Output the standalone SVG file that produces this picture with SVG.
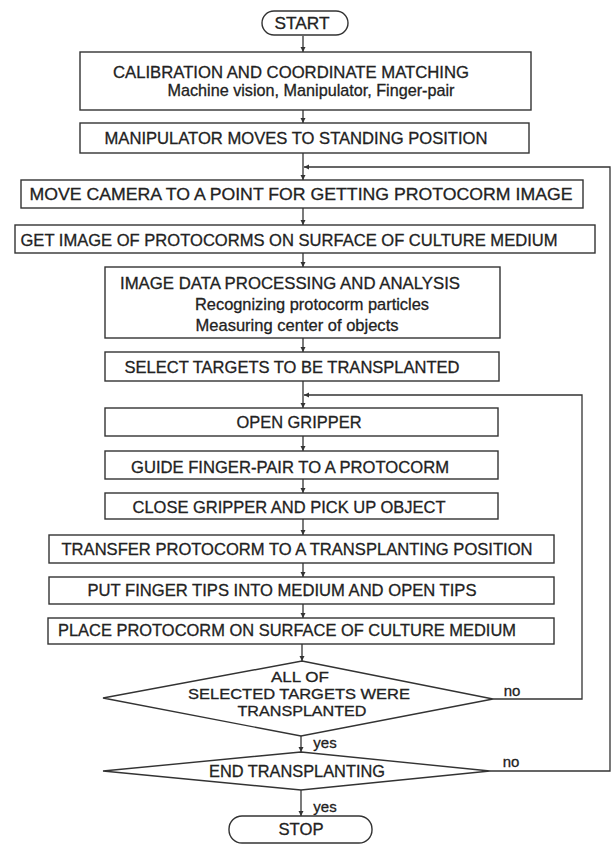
<svg xmlns="http://www.w3.org/2000/svg" width="613" height="845" viewBox="0 0 613 845">
<style>
.b{fill:#fff;stroke:#333;stroke-width:1.4}
.c{fill:none;stroke:#333;stroke-width:1.3}
text{font-family:"Liberation Sans",Arial,sans-serif;font-size:17px;fill:#222;stroke:#222;stroke-width:0.3;text-anchor:middle}
.s{font-size:15px}
.d{font-size:15px}
</style>
<defs>
<marker id="a" markerWidth="6" markerHeight="6" refX="5" refY="3" orient="auto" markerUnits="userSpaceOnUse">
<path d="M0,0.5 L5,3 L0,5.5 Z" fill="#333"/>
</marker>
</defs>
<rect width="613" height="845" fill="#fff"/>
<g id="connectors">
<line class="c" x1="303" y1="36" x2="303" y2="52" marker-end="url(#a)"/>
<line class="c" x1="303" y1="110" x2="303" y2="123" marker-end="url(#a)"/>
<line class="c" x1="303" y1="153" x2="303" y2="180" marker-end="url(#a)"/>
<line class="c" x1="303" y1="208" x2="303" y2="225" marker-end="url(#a)"/>
<line class="c" x1="303" y1="253" x2="303" y2="267" marker-end="url(#a)"/>
<line class="c" x1="303" y1="338" x2="303" y2="352" marker-end="url(#a)"/>
<line class="c" x1="303" y1="381" x2="303" y2="408" marker-end="url(#a)"/>
<line class="c" x1="303" y1="436" x2="303" y2="451" marker-end="url(#a)"/>
<line class="c" x1="303" y1="479" x2="303" y2="493" marker-end="url(#a)"/>
<line class="c" x1="303" y1="519" x2="303" y2="535" marker-end="url(#a)"/>
<line class="c" x1="303" y1="563" x2="303" y2="577" marker-end="url(#a)"/>
<line class="c" x1="303" y1="604" x2="303" y2="618" marker-end="url(#a)"/>
<line class="c" x1="302" y1="644" x2="302" y2="661" marker-end="url(#a)"/>
<line class="c" x1="301" y1="736" x2="301" y2="752" marker-end="url(#a)"/>
<line class="c" x1="301" y1="790" x2="301" y2="816" marker-end="url(#a)"/>
<polyline class="c" points="493,699 582,699 582,395 304,395" marker-end="url(#a)"/>
<polyline class="c" points="490,771 610,771 610,167 304,167" marker-end="url(#a)"/>
<text class="s" x="512" y="696">no</text>
<text class="s" x="511" y="767">no</text>
<text class="s" x="325" y="748">yes</text>
<text class="s" x="325" y="812">yes</text>
</g>
<g id="start"><rect class="b" x="262" y="11" width="86" height="24" rx="12"/><text x="302" y="29" textLength="55" lengthAdjust="spacingAndGlyphs">START</text></g>
<g id="calibration"><rect class="b" x="80" y="52" width="451" height="58"/>
<text x="291" y="78" textLength="356" lengthAdjust="spacingAndGlyphs">CALIBRATION AND COORDINATE MATCHING</text>
<text x="311" y="96" textLength="287" lengthAdjust="spacingAndGlyphs">Machine vision, Manipulator, Finger-pair</text></g>
<g id="standing"><rect class="b" x="80" y="123" width="449" height="30"/>
<text x="296" y="144" textLength="383" lengthAdjust="spacingAndGlyphs">MANIPULATOR MOVES TO STANDING POSITION</text></g>
<g id="movecamera"><rect class="b" x="21" y="180" width="562" height="28"/>
<text x="301" y="200" textLength="543" lengthAdjust="spacingAndGlyphs">MOVE CAMERA TO A POINT FOR GETTING PROTOCORM IMAGE</text></g>
<g id="getimage"><rect class="b" x="15" y="225" width="580" height="28"/>
<text x="289" y="246" textLength="537" lengthAdjust="spacingAndGlyphs">GET IMAGE OF PROTOCORMS ON SURFACE OF CULTURE MEDIUM</text></g>
<g id="imagedata"><rect class="b" x="105" y="267" width="395" height="71"/>
<text x="290" y="289" textLength="340" lengthAdjust="spacingAndGlyphs">IMAGE DATA PROCESSING AND ANALYSIS</text>
<text x="312" y="310" textLength="234" lengthAdjust="spacingAndGlyphs">Recognizing protocorm particles</text>
<text x="297" y="331" textLength="203" lengthAdjust="spacingAndGlyphs">Measuring center of objects</text></g>
<g id="select"><rect class="b" x="105" y="352" width="394" height="29"/>
<text x="292" y="373" textLength="335" lengthAdjust="spacingAndGlyphs">SELECT TARGETS TO BE TRANSPLANTED</text></g>
<g id="opengripper"><rect class="b" x="105" y="408" width="393" height="28"/>
<text x="299" y="428" textLength="125" lengthAdjust="spacingAndGlyphs">OPEN GRIPPER</text></g>
<g id="guide"><rect class="b" x="105" y="451" width="393" height="28"/>
<text x="290" y="473" textLength="318" lengthAdjust="spacingAndGlyphs">GUIDE FINGER-PAIR TO A PROTOCORM</text></g>
<g id="close"><rect class="b" x="105" y="493" width="393" height="26"/>
<text x="289" y="513" textLength="313" lengthAdjust="spacingAndGlyphs">CLOSE GRIPPER AND PICK UP OBJECT</text></g>
<g id="transfer"><rect class="b" x="49" y="535" width="505" height="28"/>
<text x="297" y="555" textLength="471" lengthAdjust="spacingAndGlyphs">TRANSFER PROTOCORM TO A TRANSPLANTING POSITION</text></g>
<g id="putfinger"><rect class="b" x="49" y="577" width="505" height="27"/>
<text x="282" y="596" textLength="389" lengthAdjust="spacingAndGlyphs">PUT FINGER TIPS INTO MEDIUM AND OPEN TIPS</text></g>
<g id="place"><rect class="b" x="48" y="618" width="506" height="26"/>
<text x="287" y="636" textLength="458" lengthAdjust="spacingAndGlyphs">PLACE PROTOCORM ON SURFACE OF CULTURE MEDIUM</text></g>
<g id="alldone"><polygon class="b" points="302,661 493,699 301,736 103,698"/>
<text class="d" x="300" y="682" textLength="58" lengthAdjust="spacingAndGlyphs">ALL OF</text>
<text class="d" x="299" y="699" textLength="222" lengthAdjust="spacingAndGlyphs">SELECTED TARGETS WERE</text>
<text class="d" x="302" y="716" textLength="129" lengthAdjust="spacingAndGlyphs">TRANSPLANTED</text></g>
<g id="endtrans"><polygon class="b" points="301,752 490,771 301,790 103,771"/>
<text x="297" y="777" textLength="176" lengthAdjust="spacingAndGlyphs">END TRANSPLANTING</text></g>
<g id="stop"><rect class="b" x="229" y="816" width="143" height="27" rx="13"/>
<text x="301" y="835" textLength="45" lengthAdjust="spacingAndGlyphs">STOP</text></g>
</svg>
